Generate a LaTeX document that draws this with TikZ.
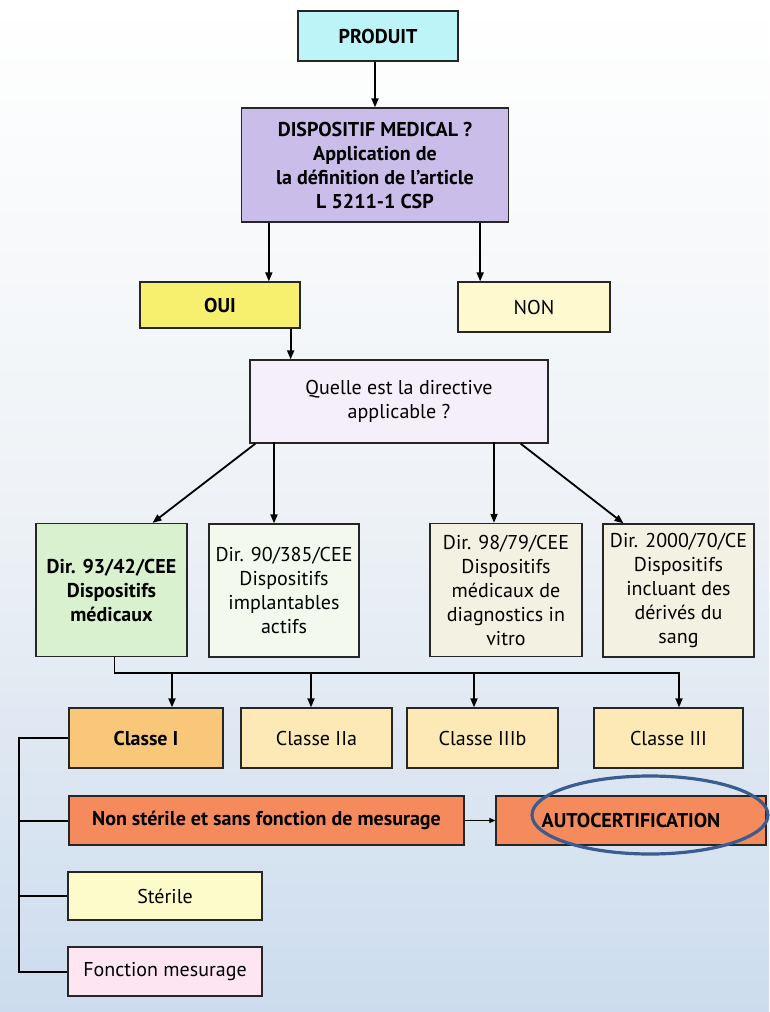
\documentclass[tikz,border=0pt]{standalone}
\usepackage{fontspec}
\setmainfont{PT Sans}
\usetikzlibrary{shapes,calc,arrows.meta}
\definecolor{cprod}{HTML}{BDF4F7}
\definecolor{cdm}{HTML}{CABDE9}
\definecolor{coui}{HTML}{F7EF6E}
\definecolor{cnon}{HTML}{FEF9CF}
\definecolor{cquest}{HTML}{F4EFFA}
\definecolor{cdirA}{HTML}{D9F1CF}
\definecolor{cdirB}{HTML}{F4F9EE}
\definecolor{cdirC}{HTML}{F3F1E1}
\definecolor{cclI}{HTML}{F9C77A}
\definecolor{ccl}{HTML}{FCE9B5}
\definecolor{cauto}{HTML}{F58A5C}
\definecolor{cster}{HTML}{FEFBCB}
\definecolor{cmes}{HTML}{FDE6F1}
\definecolor{anneau}{HTML}{3B5C8E}
\definecolor{bgbleu}{HTML}{CCDCEE}
\definecolor{bgmilieu}{HTML}{EEF2F6}

\begin{document}
\begin{tikzpicture}[x=1pt,y=-1pt,>={Triangle[length=9pt,width=7pt]},line width=1.8pt]
\tikzstyle{boite}=[rectangle,draw=black!85,line width=1.3pt,fill=#1,align=center,inner sep=2pt,font=\fontsize{20}{24}\selectfont]
\useasboundingbox (0,0) rectangle (769,1012);
\fill[top color=white,bottom color=bgbleu,middle color=bgmilieu] (0,0) rectangle (769,1012);

\node[boite=cprod,minimum width=160,minimum height=50](P) at (378,36) {\bfseries PRODUIT};
\node[boite=cdm,minimum width=267,minimum height=114](DM) at (375,165) {\bfseries DISPOSITIF MEDICAL ?\\\bfseries Application de\\\bfseries la définition de l’article\\\bfseries L 5211-1 CSP};
\node[boite=coui,minimum width=160,minimum height=46](OUI) at (220,305) {\bfseries OUI};
\node[boite=cnon,minimum width=152,minimum height=50](NON) at (534,307) {NON};
\node[boite=cquest,minimum width=298,minimum height=83](Q) at (399,401.5) {Quelle est la directive\\applicable ?};

\node[boite=cdirA,minimum width=151,minimum height=133](D1) at (111.5,590) {\bfseries Dir. 93/42/CEE\\\bfseries Dispositifs\\\bfseries médicaux};
\node[boite=cdirB,minimum width=150,minimum height=133](D2) at (284,590.5) {Dir. 90/385/CEE\\Dispositifs\\implantables\\actifs};
\node[boite=cdirC,minimum width=152,minimum height=133](D3) at (506,590) {Dir. 98/79/CEE\\Dispositifs\\médicaux de\\diagnostics in\\vitro};
\node[boite=cdirC,minimum width=151,minimum height=133](D4) at (678.5,590.5) {Dir. 2000/70/CE\\Dispositifs\\incluant des\\dérivés du\\sang};

\node[boite=cclI,minimum width=154,minimum height=60](C1) at (146,738) {\bfseries Classe I};
\node[boite=ccl,minimum width=151,minimum height=60](C2) at (316.5,738) {Classe IIa};
\node[boite=ccl,minimum width=151,minimum height=60](C3) at (482.5,738) {Classe IIIb};
\node[boite=ccl,minimum width=149,minimum height=60](C4) at (668.5,738) {Classe III};

\node[boite=cauto,minimum width=395,minimum height=49](NS) at (266.5,820.5) {\bfseries Non stérile et sans fonction de mesurage};
\node[boite=cauto,minimum width=270,minimum height=49](AC) at (631,820.5) {\bfseries AUTOCERTIFICATION};
\node[boite=cster,minimum width=194,minimum height=48](ST) at (165,896) {Stérile};
\node[boite=cmes,minimum width=194,minimum height=49](FM) at (165,971.5) {Fonction mesurage};

\draw[->] (P.south -| DM.north) -- (DM.north);
\draw[->] (DM.south west) ++(28,0) coordinate (a) -- (a |- OUI.north);
\draw[->] (DM.south east) ++(-29,0) coordinate (a) -- (a |- NON.north);
\draw[->] (OUI.south east) ++(-10,0) coordinate (a) -- (a |- Q.north);

\draw[->] ([xshift=6]Q.south west) -- ([xshift=41]D1.north);
\draw[->] ([xshift=-10]D2.north) ++(0,-81) -- ([xshift=-10]D2.north);
\draw[->] ([xshift=-12]D3.north) ++(0,-81) -- ([xshift=-12]D3.north);
\draw[->] ([xshift=-28]Q.south east) -- ([xshift=-55]D4.north);

\draw (D1.south) ++(3,0) -- ++(0,16) coordinate (bus) -- ++(564,0);
\foreach \c/\dx in {C1/26,C2/-5.5,C3/-8.5,C4/10.5}
  \draw[->] ([xshift=\dx]\c.north) ++(0,-35) -- ([xshift=\dx]\c.north);

\draw[line width=2pt] (C1.west) -- ++(-49,0) coordinate (L) |- (FM.west);
\draw[line width=2pt] (L |- NS.west) -- (NS.west);
\draw[line width=2pt] (L |- ST.west) -- (ST.west);
\draw[->,line width=1pt,>={Triangle[length=6pt,width=5pt]}] (NS) -- (AC);

\node[ellipse,draw=anneau,line width=3.2pt,minimum width=236,minimum height=78](ring) at (650,815) {};
\end{tikzpicture}
\end{document}
